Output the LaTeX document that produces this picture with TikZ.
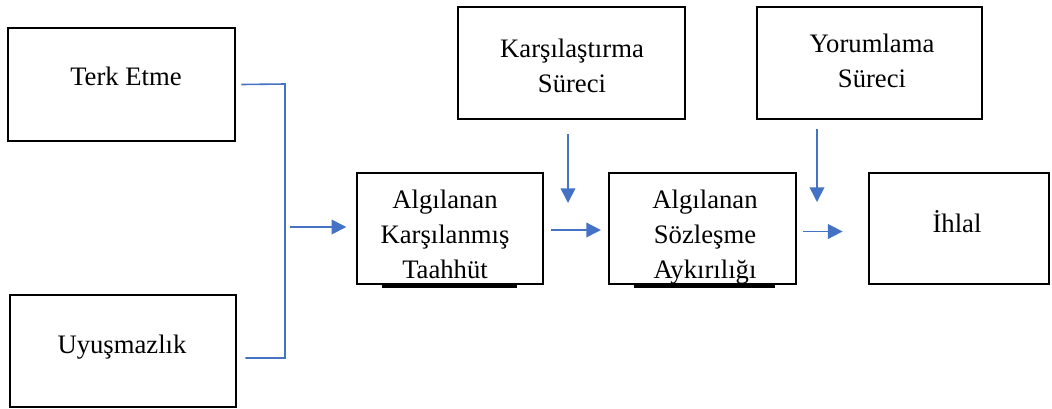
\documentclass[tikz,border=0pt]{standalone}
\usepackage{fontspec}
\setmainfont{Liberation Serif}
\usetikzlibrary{arrows.meta,calc,fit}
\definecolor{wordblue}{HTML}{4472C4}
\begin{document}
\begin{tikzpicture}[x=0.75pt,y=-0.75pt,
  box/.style={draw=black, line width=2.1pt, inner sep=0pt, fill=white},
  lbl/.style={font=\fontsize{20}{26}\selectfont, align=center, inner sep=0pt, anchor=base},
  conn/.style={draw=wordblue, line width=1.2pt},
  arr/.style={conn, -{Triangle[length=11pt,width=11pt]}},
  bar/.style={line width=2.6pt, black}]
\useasboundingbox (0,0) rectangle (1052,408);
% boxes
\node[box, fit={(8,28) (235,141)}] (terk) {};
\node[box, fit={(10,295) (236,407)}] (uyus) {};
\node[box, fit={(458,7) (685,119)}] (kars) {};
\node[box, fit={(757,7) (982,119)}] (yor) {};
\node[box, fit={(357,173) (543,284)}] (a) {};
\node[box, fit={(609,173) (796,284)}] (b) {};
\node[box, fit={(869,173) (1049,284)}] (c) {};
% labels (base anchor = baseline of the last line)
\node[lbl] (tterk) at (126,85) {Terk Etme};
\node[lbl] (tuyus) at (122,353) {Uyuşmazlık};
\node[lbl] (tkars) at (572,92) {Karşılaştırma\\Süreci};
\node[lbl] (tyor) at (872,87) {Yorumlama\\Süreci};
\node[lbl] (ta) at (445,278) {Algılanan\\Karşılanmış\\Taahhüt};
\node[lbl] (tb) at (705,278) {Algılanan\\Sözleşme\\Aykırılığı};
\node[lbl] (tc) at (957,232) {İhlal};
% underline bars
\draw[bar] ($(a.south west)+(26,1)$) -- ($(a.south west)+(161,1)$);
\draw[bar] ($(b.south west)+(26,1)$) -- ($(b.south west)+(167,1)$);
% connectors
\coordinate (jt) at (285,84);
\coordinate (jb) at (285,358);
\coordinate (jm) at (290,227);
\draw[conn] ($(terk.east)+(5,0)$) -- (jt) -- (jb) -- ($(uyus.east |- jb)+(8,0)$);
\draw[arr, shorten >=7pt] (jm) -- (jm -| a.west);
\draw[arr, shorten <=5pt, shorten >=5pt] ($(a.east)+(0,1.5)$) -- ($(b.west)+(0,1.5)$);
\draw[arr, shorten <=4.5pt, shorten >=18.75pt] ($(b.east)+(0,3)$) -- ($(c.west)+(0,3)$);
\coordinate (kend) at (568,203);
\draw[arr, shorten <=10.5pt] (kars.south -| kend) -- (kend);
\coordinate (yend) at (817,202);
\draw[arr, shorten <=6.75pt] (yor.south -| yend) -- (yend);
\end{tikzpicture}
\end{document}
